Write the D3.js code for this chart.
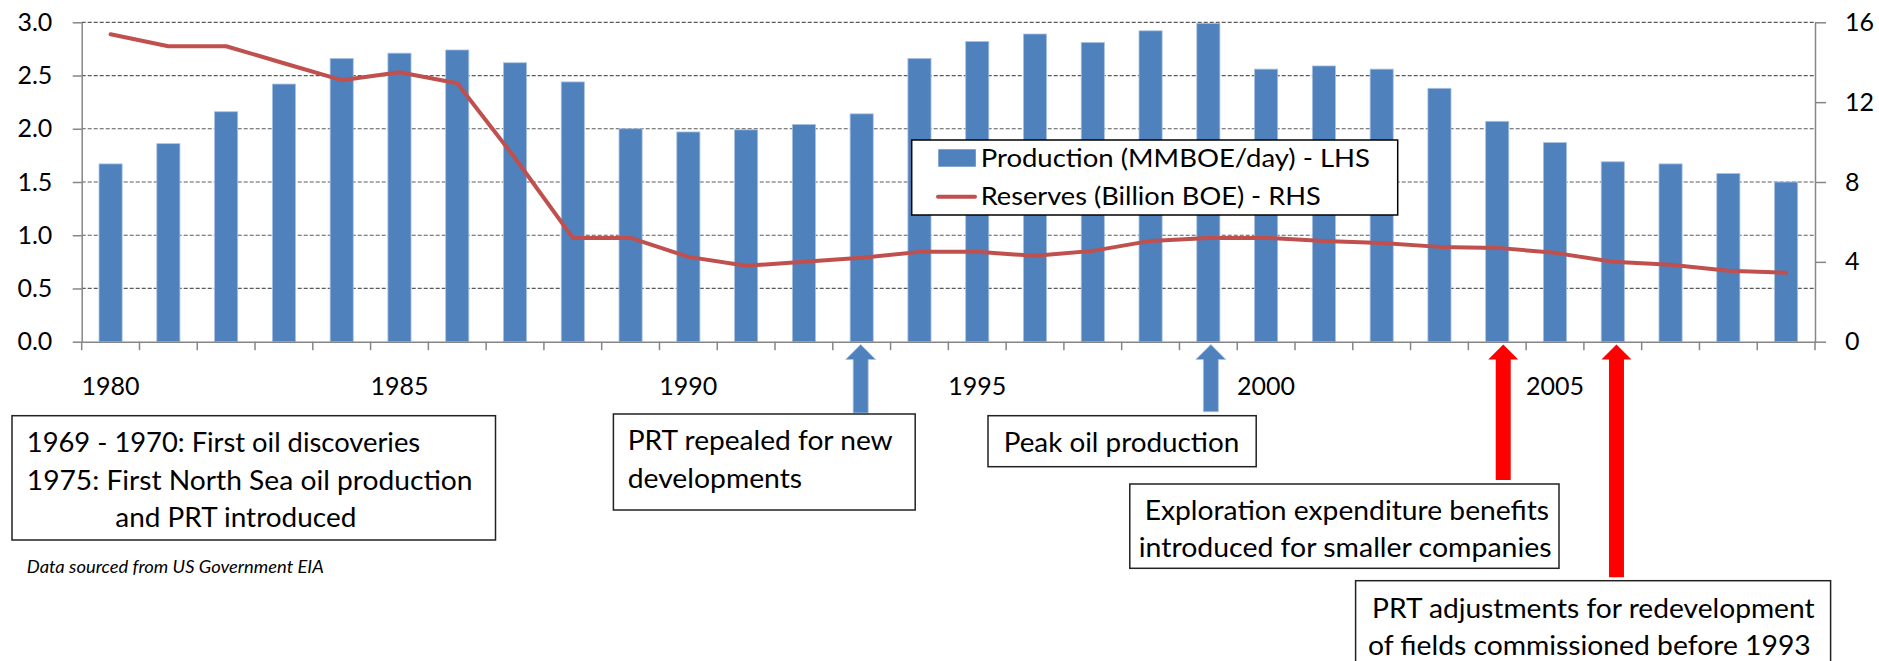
<!DOCTYPE html>
<html>
<head>
<meta charset="utf-8">
<script src="https://cdn.jsdelivr.net/npm/d3@7/dist/d3.min.js"></script>
<style>
  html, body { margin: 0; padding: 0; background: #fff; }
  svg { display: block; font-family: Lato, "Open Sans", sans-serif; }
</style>
</head>
<body>
<svg id="chart" width="1879" height="661"></svg>
<script>
// ---------------- data ----------------
const years = [1980,1981,1982,1983,1984,1985,1986,1987,1988,1989,
               1990,1991,1992,1993,1994,1995,1996,1997,1998,1999,
               2000,2001,2002,2003,2004,2005,2006,2007,2008,2009];
const production = [1.67,1.86,2.16,2.42,2.66,2.71,2.74,2.62,2.44,2.00,
                    1.97,1.99,2.04,2.14,2.66,2.82,2.89,2.81,2.92,2.99,
                    2.56,2.59,2.56,2.38,2.07,1.87,1.69,1.67,1.58,1.50];
const reserves = [15.4,14.8,14.8,13.95,13.1,13.5,12.95,9.2,5.2,5.2,
                  4.25,3.8,4.0,4.2,4.5,4.5,4.3,4.55,5.05,5.2,
                  5.2,5.05,4.95,4.75,4.7,4.45,4.0,3.85,3.55,3.45];
const leftTicks = [0,0.5,1.0,1.5,2.0,2.5,3.0];
const rightTicks = [0,4,8,12,16];
const xLabelYears = [1980,1985,1990,1995,2000,2005];
const seriesNames = ["Production (MMBOE/day) - LHS", "Reserves (Billion BOE) - RHS"];
const arrowYears = [1993, 1999, 2004, 2006];
const arrowKinds = ["blue","blue","red","red"];
const noteTexts = [
  ["1969 - 1970: First oil discoveries", "1975:  First North Sea oil production", "and PRT introduced"],
  ["PRT repealed  for new", "developments"],
  ["Peak oil production"],
  ["Exploration expenditure  benefits", "introduced for smaller companies"],
  ["PRT adjustments for redevelopment", "of fields commissioned before 1993"]
];
const sourceText = "Data sourced  from US Government  EIA";

// ---------------- layout ----------------
const L = 81.7, R = 1815, T = 22.3, B = 341.7;
const colors = { bar: "#4F81BD", barEdge: "#A9C1E0", line: "#C0504D", axis: "#868686",
                 grid: "#5A5A5A", red: "#FF0000", box: "#222" };
const noteLayout = [
  { x: 12, y: 415.7, w: 483.5, h: 124.3,
    lines: [{x: 26.8, y: 452, len: 393.4}, {x: 26.8, y: 490, len: 445.7}, {x: 115.3, y: 527, len: 241}] },
  { x: 613.4, y: 414, w: 301.8, h: 96,
    lines: [{x: 627.7, y: 450, len: 265}, {x: 627.7, y: 487.5, len: 174.4}] },
  { x: 988, y: 415.7, w: 268.2, h: 51,
    lines: [{x: 1003.7, y: 452, len: 235.6}] },
  { x: 1129.8, y: 484, w: 429.2, h: 84.3,
    lines: [{x: 1144.7, y: 520, len: 404.4}, {x: 1138.7, y: 556.7, len: 412.9}] },
  { x: 1355.6, y: 580.7, w: 475, h: 110,
    lines: [{x: 1372, y: 618.3, len: 442.6}, {x: 1368, y: 655, len: 442.7}] }
];
const arrowLayout = [
  { dx: -1, bottom: 413 }, { dx: 2.5, bottom: 411.7 },
  { dx: 6, bottom: 480 }, { dx: 3.7, bottom: 577.3 }
];

const svg = d3.select("#chart");

// ---------------- scales ----------------
const x = d3.scaleBand().domain(years).range([L, R]).paddingInner(0.6).paddingOuter(0.3);
const yL = d3.scaleLinear().domain([0, 3]).range([B, T]);
const yR = d3.scaleLinear().domain([0, 16]).range([B, T]);
const cx = d => x(d) + x.bandwidth() / 2;

// ---------------- gridlines ----------------
svg.append("g").selectAll("line")
  .data(leftTicks.filter(d => d > 0))
  .join("line")
  .attr("x1", L).attr("x2", R)
  .attr("y1", d => yL(d)).attr("y2", d => yL(d))
  .attr("stroke", colors.grid).attr("stroke-width", 1.2)
  .attr("stroke-dasharray", "4,2");

// ---------------- bars ----------------
svg.append("g").selectAll("rect")
  .data(years)
  .join("rect")
  .attr("x", d => x(d))
  .attr("width", x.bandwidth())
  .attr("y", (d, i) => yL(production[i]))
  .attr("height", (d, i) => B - yL(production[i]))
  .attr("fill", colors.bar)
  .attr("stroke", colors.barEdge).attr("stroke-width", 0.8);

// ---------------- reserves line ----------------
const lineGen = d3.line().x((d, i) => cx(years[i])).y(d => yR(d));
svg.append("path")
  .datum(reserves)
  .attr("d", lineGen)
  .attr("fill", "none")
  .attr("stroke", colors.line)
  .attr("stroke-width", 4)
  .attr("stroke-linejoin", "round")
  .attr("stroke-linecap", "round");

// ---------------- axes ----------------
function styleAxis(g) {
  g.selectAll(".domain").attr("stroke", colors.axis).attr("stroke-width", 1.5);
  g.selectAll(".tick line").attr("stroke", colors.axis).attr("stroke-width", 1.5);
  g.selectAll("text").attr("fill", "#000").style("font-size", "25px").style("font-family", "Lato, sans-serif");
}
svg.append("g").attr("transform", `translate(${L},0)`)
  .call(d3.axisLeft(yL).tickValues(leftTicks).tickFormat(d3.format(".1f"))
        .tickSize(9).tickSizeOuter(0).tickPadding(20.4))
  .call(styleAxis);
svg.append("g").attr("transform", `translate(${R},0)`)
  .call(d3.axisRight(yR).tickValues(rightTicks).tickFormat(d3.format("d"))
        .tickSize(11).tickSizeOuter(0).tickPadding(19))
  .call(styleAxis);

// bottom axis: labels every 5 years at band centres
svg.append("g").attr("transform", `translate(0,${B})`)
  .call(d3.axisBottom(x).tickValues(xLabelYears).tickSize(0).tickSizeOuter(0).tickPadding(35.5))
  .call(styleAxis);
// category boundary ticks
const boundaries = years.map(d => cx(d) - x.step() / 2).concat([R]);
svg.append("g").selectAll("line")
  .data(boundaries)
  .join("line")
  .attr("x1", d => d).attr("x2", d => d)
  .attr("y1", B).attr("y2", B + 8.5)
  .attr("stroke", colors.axis).attr("stroke-width", 1.5);

// ---------------- legend ----------------
const lg = svg.append("g");
lg.append("rect").attr("x", 911.7).attr("y", 140).attr("width", 486).attr("height", 75)
  .attr("fill", "#fff").attr("stroke", "#000").attr("stroke-width", 1.5);
lg.append("rect").attr("x", 938.3).attr("y", 149.3).attr("width", 37.5).attr("height", 17.4)
  .attr("fill", colors.bar);
lg.append("line").attr("x1", 938).attr("x2", 975).attr("y1", 196.7).attr("y2", 196.7)
  .attr("stroke", colors.line).attr("stroke-width", 4).attr("stroke-linecap", "round");
lg.selectAll("text.leg").data(seriesNames).join("text")
  .attr("class", "leg")
  .attr("x", 980.7).attr("y", (d, i) => i === 0 ? 166.7 : 205)
  .attr("textLength", (d, i) => i === 0 ? 389.3 : 340)
  .attr("lengthAdjust", "spacingAndGlyphs")
  .style("font-size", "25.5px").attr("fill", "#000")
  .text(d => d);

// ---------------- arrows ----------------
function arrowPath(c, tip, bottom) {
  const sw = 15, hw = 30, hh = 15;
  return d3.line()([
    [c, tip], [c + hw / 2, tip + hh], [c + sw / 2, tip + hh], [c + sw / 2, bottom],
    [c - sw / 2, bottom], [c - sw / 2, tip + hh], [c - hw / 2, tip + hh]
  ]) + "Z";
}
svg.append("g").selectAll("path")
  .data(arrowYears)
  .join("path")
  .attr("d", (d, i) => arrowPath(cx(d) + arrowLayout[i].dx, 344.5, arrowLayout[i].bottom))
  .attr("fill", (d, i) => arrowKinds[i] === "blue" ? colors.bar : colors.red)
  .attr("stroke", (d, i) => arrowKinds[i] === "blue" ? colors.barEdge : "none")
  .attr("stroke-width", 0.8);

// ---------------- annotation boxes ----------------
const notes = svg.append("g").selectAll("g")
  .data(noteTexts)
  .join("g");
notes.append("rect")
  .attr("x", (d, i) => noteLayout[i].x).attr("y", (d, i) => noteLayout[i].y)
  .attr("width", (d, i) => noteLayout[i].w).attr("height", (d, i) => noteLayout[i].h)
  .attr("fill", "#fff").attr("stroke", colors.box).attr("stroke-width", 1.5);
notes.each(function(lines, i) {
  d3.select(this).selectAll("text")
    .data(lines)
    .join("text")
    .attr("x", (t, j) => noteLayout[i].lines[j].x)
    .attr("y", (t, j) => noteLayout[i].lines[j].y)
    .attr("textLength", (t, j) => noteLayout[i].lines[j].len)
    .attr("lengthAdjust", "spacingAndGlyphs")
    .style("font-size", "26px").attr("fill", "#000")
    .text(t => t);
});

// ---------------- source note ----------------
svg.append("text")
  .attr("x", 26.8).attr("y", 573)
  .attr("textLength", 297).attr("lengthAdjust", "spacingAndGlyphs")
  .style("font-size", "17px").style("font-style", "italic").attr("fill", "#000")
  .text(sourceText);
</script>
</body>
</html>
